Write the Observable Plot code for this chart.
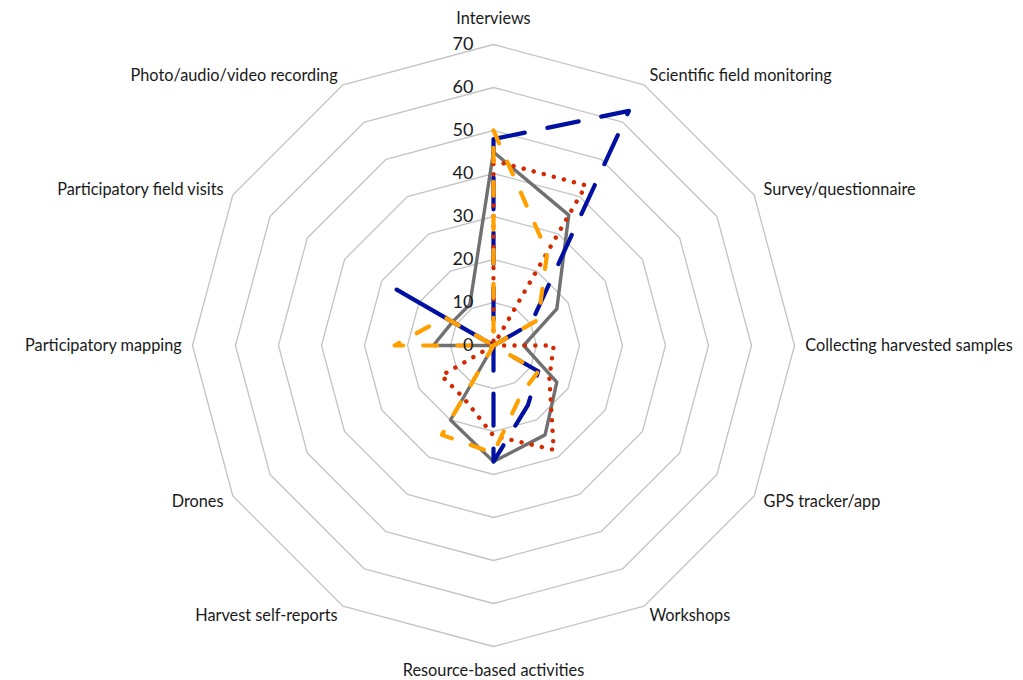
<!DOCTYPE html>
<html>
<head>
<meta charset="utf-8">
<script src="https://cdn.jsdelivr.net/npm/d3@7"></script>
<script src="https://cdn.jsdelivr.net/npm/@observablehq/plot@0.6"></script>
<style>
  html, body { margin: 0; padding: 0; background: #ffffff; overflow: hidden; }
  #chart svg { display: block; }
</style>
</head>
<body>
<div id="chart"></div>
<script>
// ---- Data ----
const categories = [
  "Interviews",
  "Scientific field monitoring",
  "Survey/questionnaire",
  "Collecting harvested samples",
  "GPS tracker/app",
  "Workshops",
  "Resource-based activities",
  "Harvest self-reports",
  "Drones",
  "Participatory mapping",
  "Participatory field visits",
  "Photo/audio/video recording"
];
const seriesNames = ["Series gray", "Series blue", "Series red", "Series orange"];
const grayValues   = [45, 35, 17, 7, 17, 24, 27, 20, 0, 14, 11, 11];
const blueValues   = [48, 63, 10, 0, 12, 16, 27, 0, 0, 0, 26, 0];
const redValues    = [43, 43, 0, 14, 15, 28, 21, 14, 14, 0, 4, 0];
const orangeValues = [50, 25, 12, 0, 12, 13, 25, 24, 0, 23, 13, 0];
const ringTicks = [0, 10, 20, 30, 40, 50, 60, 70];

// ---- Geometry helpers ----
const maxValue = d3.max(ringTicks);
const n = categories.length;
const angle = i => (i * 2 * Math.PI) / n;
const polar = (v, i) => ({x: v * Math.sin(angle(i)), y: v * Math.cos(angle(i))});

const styles = [
  {name: seriesNames[0], values: grayValues,   stroke: "#707070", width: 3.4, dash: null},
  {name: seriesNames[1], values: blueValues,   stroke: "#0010a0", width: 4.2, dash: "32,23"},
  {name: seriesNames[2], values: redValues,    stroke: "#d42800", width: 4.4, dash: "0.1,10.3"},
  {name: seriesNames[3], values: orangeValues, stroke: "#ffa000", width: 4.2, dash: "14,20"}
];

const rings = ringTicks.filter(t => t > 0)
  .flatMap(t => categories.map((c, i) => ({ring: t, ...polar(t, i)})));

const labelPad = 2.5;
const labelData = categories.map((c, i) => {
  const a = angle(i);
  return {label: c, ...polar(maxValue + labelPad, i), s: Math.sin(a), c: Math.cos(a)};
});

const pxPerUnit = 4.3;
const W = 1023, H = 680;
const cx = 493, cy = 345;

const textStyle = {fill: "#1a1a1a", fontSize: 16.3};

const chart = Plot.plot({
  width: W,
  height: H,
  margin: 0,
  style: {fontFamily: "Lato, 'Open Sans', sans-serif", background: "#ffffff"},
  x: {domain: [-cx / pxPerUnit, (W - cx) / pxPerUnit], axis: null},
  y: {domain: [-(H - cy) / pxPerUnit, cy / pxPerUnit], axis: null},
  marks: [
    Plot.line(rings, {x: "x", y: "y", z: "ring", curve: "linear-closed",
      stroke: "#c4c4c4", strokeWidth: 1.3}),
    ...styles.map(s => Plot.line(
      s.values.map((v, i) => ({cat: categories[i], ...polar(v, i)})),
      {x: "x", y: "y", curve: "linear-closed", stroke: s.stroke,
       strokeWidth: s.width, strokeDasharray: s.dash,
       strokeLinecap: "round", strokeLinejoin: "round"})),
    Plot.text(ringTicks, {x: 0, y: d => d, text: d => String(d),
      textAnchor: "end", dx: -20, fontSize: 18, fill: "#1a1a1a"}),
    Plot.text(labelData.filter(d => d.s > 0.01),
      {x: "x", y: "y", text: "label", textAnchor: "start", ...textStyle}),
    Plot.text(labelData.filter(d => d.s < -0.01),
      {x: "x", y: "y", text: "label", textAnchor: "end", ...textStyle}),
    Plot.text(labelData.filter(d => Math.abs(d.s) <= 0.01 && d.c > 0),
      {x: "x", y: "y", text: "label", textAnchor: "middle", dy: -15, ...textStyle}),
    Plot.text(labelData.filter(d => Math.abs(d.s) <= 0.01 && d.c < 0),
      {x: "x", y: "y", text: "label", textAnchor: "middle", dy: 14, ...textStyle})
  ]
});
document.getElementById("chart").appendChild(chart);
</script>
</body>
</html>
